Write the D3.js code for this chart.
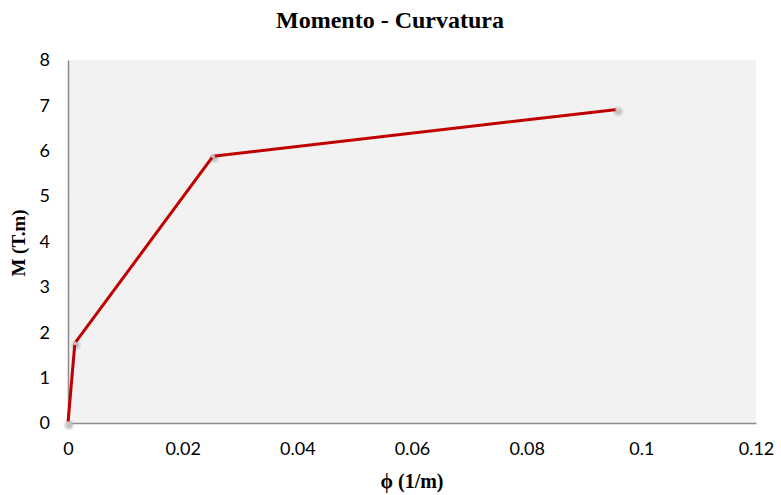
<!DOCTYPE html>
<html><head><meta charset="utf-8">
<script src="https://cdn.jsdelivr.net/npm/d3@7"></script>
<style>body{margin:0;background:#fff}</style>
</head><body>
<svg id="c" width="781" height="495"></svg>
<script>
const phi = [0, 0.0012, 0.0253, 0.0958];
const moment = [0, 1.76, 5.88, 6.91];
const xTicks = [0, 0.02, 0.04, 0.06, 0.08, 0.1, 0.12];
const yTicks = [0, 1, 2, 3, 4, 5, 6, 7, 8];

const svg = d3.select("#c");
const m = {l: 68, t: 60, r: 756, b: 423};
const x = d3.scaleLinear().domain([0, 0.12]).range([m.l, m.r]);
const y = d3.scaleLinear().domain([0, 8]).range([m.b, m.t]);

svg.append("rect").attr("x", m.l).attr("y", m.t).attr("width", m.r - m.l).attr("height", m.b - m.t).attr("fill", "#F2F2F2");

const tickFont = "Lato, 'Open Sans', sans-serif";
const xa = svg.append("g").attr("transform", `translate(0,${m.b})`)
  .call(d3.axisBottom(x).tickValues(xTicks).tickSize(0).tickPadding(19).tickFormat(d => String(+d.toFixed(2))));
const ya = svg.append("g").attr("transform", `translate(${m.l},0)`)
  .call(d3.axisLeft(y).tickValues(yTicks).tickSize(0).tickPadding(18).tickFormat(d3.format("d")));
[xa, ya].forEach(a => {
  a.select(".domain").attr("stroke", "#8c8c8c").attr("stroke-width", 1.5);
  a.selectAll("text").attr("font-family", tickFont).attr("font-size", 18).attr("fill", "#000");
});

const data = phi.map((p, i) => ({p, mo: moment[i]}));
const defs = svg.append("defs");
defs.append("filter").attr("id", "blur").append("feGaussianBlur").attr("stdDeviation", 1.5);
svg.append("g").selectAll("circle").data(data).join("circle")
  .attr("cx", d => x(d.p) + 1).attr("cy", d => y(d.mo) + 2).attr("r", 4)
  .attr("fill", "#bdbdbd").attr("filter", "url(#blur)");
svg.append("path").datum(data)
  .attr("d", d3.line().x(d => x(d.p)).y(d => y(d.mo)))
  .attr("fill", "none").attr("stroke", "#C00000").attr("stroke-width", 3).attr("stroke-linejoin", "round");
svg.append("g").selectAll("circle").data(data).join("circle")
  .attr("cx", d => x(d.p)).attr("cy", d => y(d.mo)).attr("r", 2)
  .attr("fill", "#d9d9d9").attr("opacity", 0.8);

svg.append("text").attr("x", 390).attr("y", 28).attr("text-anchor", "middle")
  .attr("font-family", "'Liberation Serif', serif").attr("font-weight", "bold").attr("font-size", 24)
  .text("Momento - Curvatura");
svg.append("text").attr("x", 412).attr("y", 488).attr("text-anchor", "middle")
  .attr("font-family", "'Liberation Serif', serif").attr("font-weight", "bold").attr("font-size", 20)
  .text("ϕ (1/m)");
svg.append("text").attr("transform", "translate(25,243) rotate(-90)").attr("text-anchor", "middle")
  .attr("font-family", "'Liberation Serif', serif").attr("font-weight", "bold").attr("font-size", 19)
  .text("M (T.m)");
</script>
</body></html>
